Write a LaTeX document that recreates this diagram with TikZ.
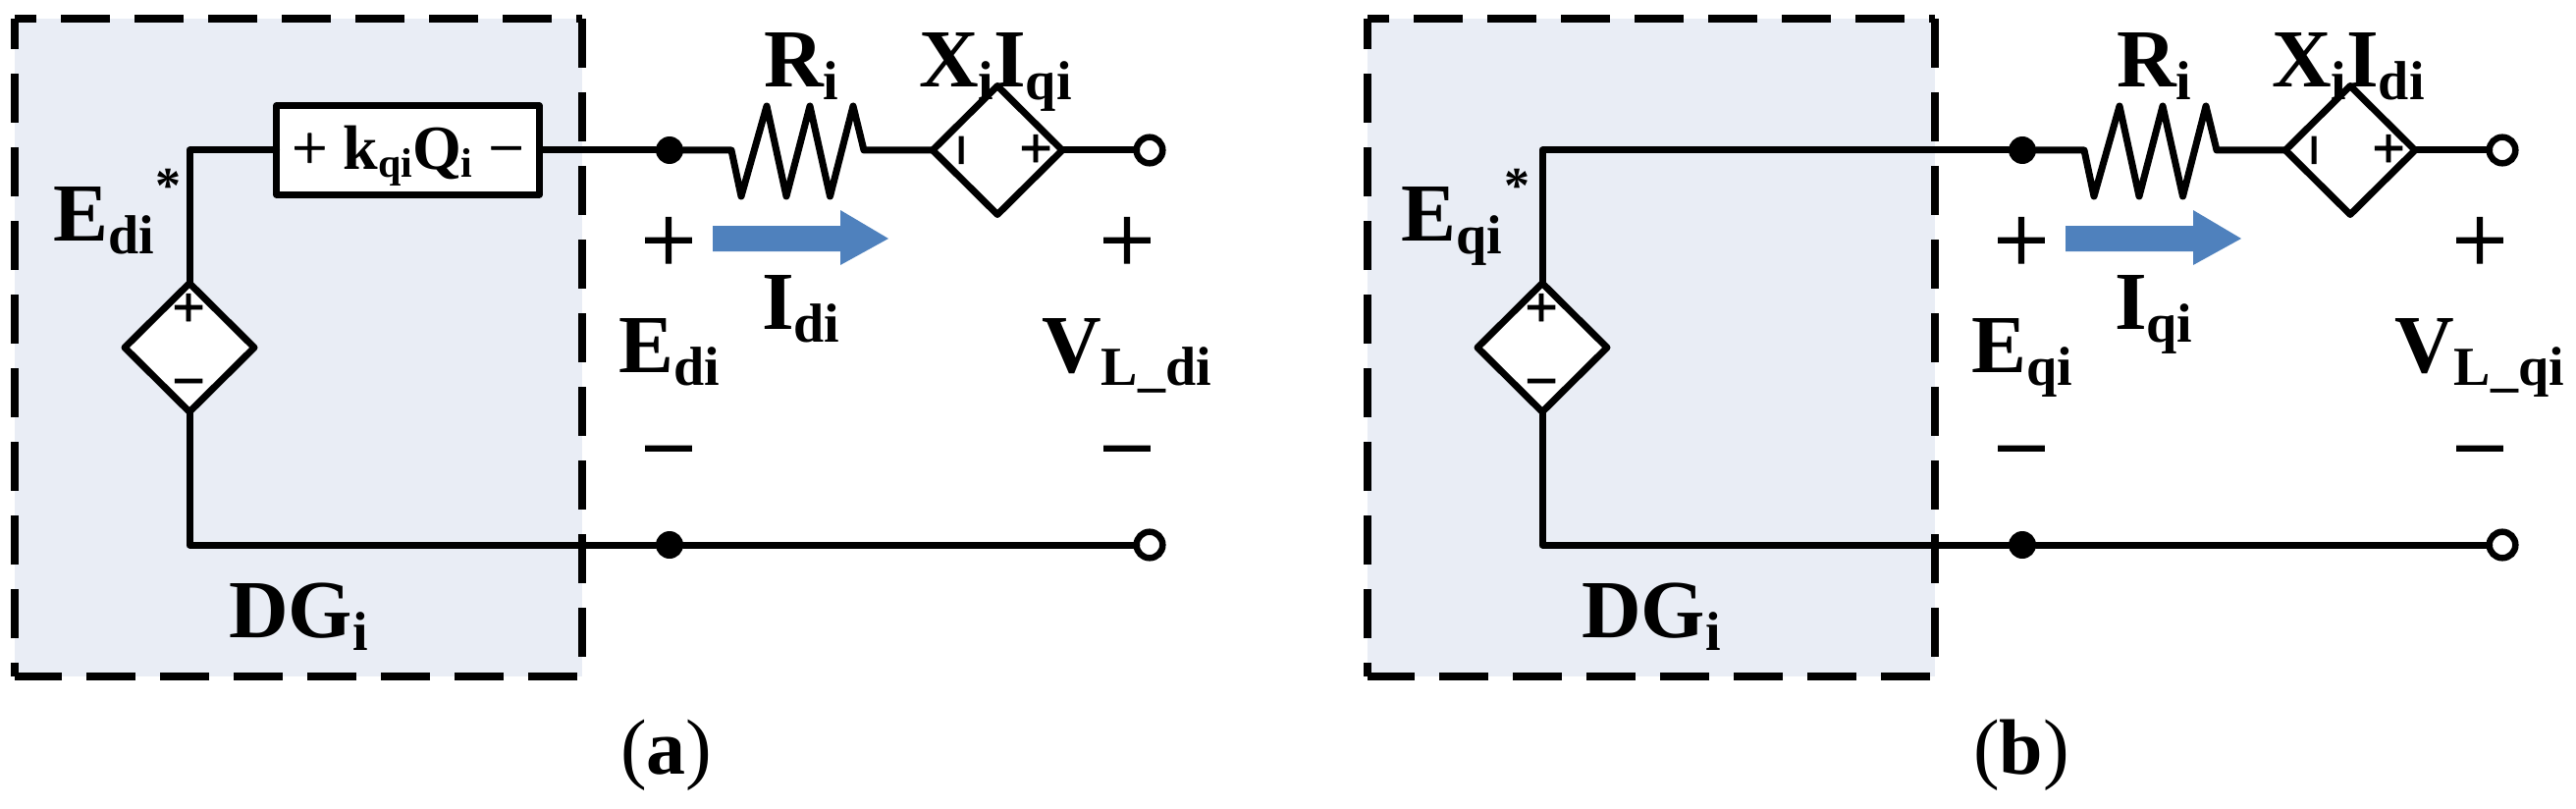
\documentclass[tikz,border=0pt]{standalone}
\usepackage{fontspec}
\setmainfont{Liberation Serif}
\newfontface\thickface{Liberation Serif}[FakeBold=1.2]
\newfontface\thickerface{Liberation Serif Bold}[FakeBold=1.0]
\usetikzlibrary{shapes.geometric}
\definecolor{dgfill}{HTML}{E9EDF5}
\definecolor{arrowblue}{HTML}{4F81BD}
\newcommand\bigT{\fontsize{84}{84}\selectfont\bfseries}
\newcommand\subT[1]{\raisebox{-13pt}{\fontsize{56}{56}\selectfont\bfseries #1}}
\newcommand\symT{\fontsize{100}{100}\thickface}
\newcommand\srcT{\fontsize{60}{60}\thickerface}
\newcommand\midT{\fontsize{64}{64}\thickface}
\newcommand\midB{\fontsize{64}{64}\selectfont\bfseries}
\newcommand\midS[1]{\raisebox{-8pt}{\fontsize{42}{42}\selectfont\bfseries #1}}
\newcommand\capT{\fontsize{80}{80}\selectfont}
\tikzset{
  wire/.style={line width=7pt,line join=round,line cap=round},
  border/.style={line width=7.5pt,dash pattern=on 50pt off 25pt},
  lbl/.style={inner sep=0pt,outer sep=0pt,anchor=base west},
  sym/.style={inner sep=0pt,outer sep=0pt,anchor=base},
  srcshape/.style={diamond,draw,fill=white,line width=7pt,line join=round,inner sep=0pt,outer sep=0pt,aspect=1,minimum width=132pt,minimum height=131pt},
  dotnode/.style={circle,fill=black,inner sep=0pt,outer sep=0pt,minimum size=28pt},
  termnode/.style={circle,draw,fill=white,line width=6.5pt,inner sep=0pt,outer sep=0pt,minimum size=26.6pt},
  dropbox/.style={rectangle,draw,fill=white,line width=7pt,line join=round,inner sep=0pt,outer sep=0pt,minimum width=268pt,minimum height=90pt,text height=45pt,text depth=7pt}
}
% #1 sub of E, #2 sub of XI, #3 sub of I, #4 caption letter, #5 x of E*, #6 x of star, #7 top wire
\newcommand\panelDG[7]{%
  \fill[dgfill] (15,19) rectangle (593,689);
  \coordinate (cT) at (193,153);
  \coordinate (cB) at (193,555);
  \coordinate (rS) at (745,153);
  \coordinate (rE) at (880,153);
  \node[dotnode] (dotT) at (682,153) {};
  \node[dotnode] (dotB) at (682,555) {};
  \node[termnode] (termT) at (1171,153) {};
  \node[termnode] (termB) at (1171,555) {};
  \node[srcshape] (src) at (193,354) {};
  \node[srcshape] (ccs) at (1016,153) {};
  #7
  \draw[wire] (src.south) -- (cB) -- (dotB);
  \draw[wire] (dotB) -- (termB);
  \draw[wire] (dotT) -- (rS) -- (755,200) -- (781,108) -- (801,200) -- (825,108) -- (845.5,200) -- (869,108) -- (rE) -- (ccs.west);
  \draw[wire] (ccs.east) -- (termT);
  \draw[border,dash phase=0pt] (593,19) -- (593,689);
  \draw[border,dash phase=70pt] (593,689) -- (15,689);
  \draw[border,dash phase=36pt] (15,689) -- (15,19);
  \draw[border,dash phase=28pt] (15,19) -- (593,19);
  \fill[arrowblue] (726,230) -- (856,230) -- (856,214) -- (905,243) -- (856,270) -- (856,256) -- (726,256) -- cycle;
  \node[sym] (srcP) at (192,333) {\srcT +};
  \node[sym] (srcM) at (192,408) {\srcT −};
  \node[sym,rotate=90] (ccsM) at (999,153) {\srcT −};
  \node[sym] (ccsP) at (1055,171) {\srcT +};
  \node[sym] (epP) at (681,278) {\symT +};
  \node[sym] (epM) at (681,490) {\symT −};
  \node[sym] (vpP) at (1148,278) {\symT +};
  \node[sym] (vpM) at (1148,490) {\symT −};
  \node[lbl] (Estar) at (#5,245) {\bigT E\subT{#1}};
  \node[sym] (star) at (#6,206) {\fontsize{52}{52}\selectfont\bfseries *};
  \node[lbl] (R) at (778,89) {\bigT R\subT{i}};
  \node[lbl] (XI) at (936,89) {\bigT X\subT{i}I\subT{#2}};
  \node[lbl] (I) at (776,335) {\bigT I\subT{#3}};
  \node[lbl] (E) at (630,379) {\bigT E\subT{#1}};
  \node[lbl] (V) at (1061,379) {\bigT V\subT{L\_#1}};
  \node[lbl] (DG) at (233,649) {\bigT DG\subT{i}};
  \node[lbl] (cap) at (632,788) {\capT ({\bfseries #4})};
}
\begin{document}
\begin{tikzpicture}[x=1pt,y=-1pt]
\useasboundingbox (0,0) rectangle (2624,824);
\begin{scope}[name prefix=a-]
  \panelDG{di}{qi}{di}{a}{54}{171}{%
    \node[dropbox] (kq) at (415.5,153) {{\midT + }{\midB k\midS{qi}Q\midS{i}}{\midT\ −}};
    \draw[wire] (src.north) -- (cT) -- (kq.west);
    \draw[wire] (kq.east) -- (dotT);
  }
\end{scope}
\begin{scope}[xshift=1378pt,name prefix=b-]
  \panelDG{qi}{di}{qi}{b}{49}{167}{%
    \draw[wire] (src.north) -- (cT) -- (dotT);
  }
\end{scope}
\end{tikzpicture}
\end{document}
